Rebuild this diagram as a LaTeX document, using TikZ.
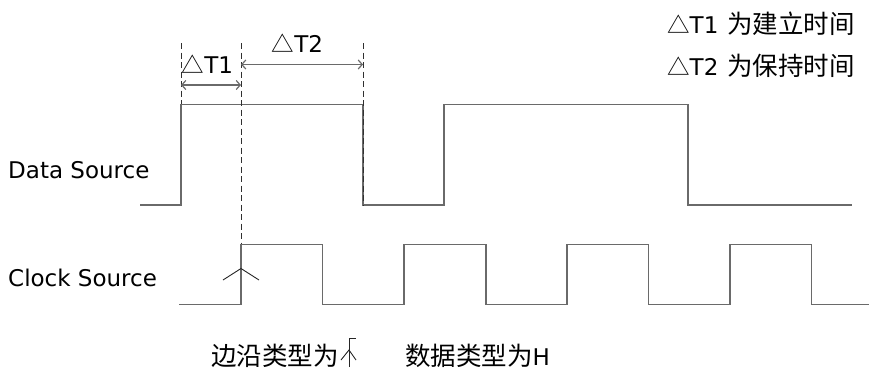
\documentclass[tikz,border=0pt]{standalone}
\usepackage{fontspec}
\setmainfont{DejaVu Sans}
\newfontfamily\cjk{Noto Sans CJK SC}
\usetikzlibrary{arrows.meta}
\definecolor{wavegray}{HTML}{6A6A6A}
\definecolor{dashgray}{HTML}{303030}
\newcommand{\tri}{{\cjk\fontsize{22.5}{27}\selectfont △}}
\newcommand{\cjkbig}{\cjk\fontsize{25.5}{30}\selectfont}
\begin{document}
\begin{tikzpicture}[x=1pt,y=-1pt,
  wave/.style={draw=wavegray,line width=1.4pt,line join=miter},
  guide/.style={draw=dashgray,line width=0.9pt,dash pattern=on 6pt off 3.5pt},
  dim/.style={draw=wavegray,line width=1.2pt,{Straight Barb[length=4pt,width=9pt]}-{Straight Barb[length=4pt,width=9pt]}},
  thin/.style={draw=black!85,line width=0.9pt},
  lbl/.style={inner sep=0pt,font=\fontsize{23}{27}\selectfont},
  cjklbl/.style={inner sep=0pt,font=\fontsize{23}{27}\selectfont}]
\useasboundingbox (0,0) rectangle (871,375);

% waveforms
\draw[wave] (140,205) -- (181,205) -- (181,104.5) -- (363,104.5) -- (363,205)
  -- (444,205) -- (444,104.5) -- (688,104.5) -- (688,205) -- (852,205);
\draw[wave] (179,304.5) -- (241,304.5) -- (241,244.5) -- (322.5,244.5) -- (322.5,304.5)
  -- (404,304.5) -- (404,244.5) -- (486,244.5) -- (486,304.5)
  -- (567,304.5) -- (567,244.5) -- (648.5,244.5) -- (648.5,304.5)
  -- (730,304.5) -- (730,244.5) -- (811.5,244.5) -- (811.5,304.5) -- (869,304.5);

% guide coordinates
\coordinate (g1t) at (181,43);  \coordinate (g1b) at (181,104);
\coordinate (g2t) at (241,43);  \coordinate (g2b) at (241,244);
\coordinate (g3t) at (363,43);  \coordinate (g3b) at (363,205);
\draw[guide] (g1t) -- (g1b);
\draw[guide] (g2t) -- (g2b);
\draw[guide] (g3t) -- (g3b);

% dimension arrows
\coordinate (a1l) at (181,85);   \coordinate (a1r) at (241,85);
\coordinate (a2l) at (241,64.5); \coordinate (a2r) at (363,64.5);
\draw[dim] (a1l) -- (a1r);
\draw[dim] (a2l) -- (a2r);

% rising edge marker on clock
\coordinate (ck) at (241,268.5);
\draw[thin] (223,280) -- (ck) -- (259,280);

% labels
\node[lbl] (t1) at (207.5,64) {\tri T1};
\node[lbl] (t2) at (297.5,43) {\tri T2};
\node[lbl,anchor=west] (n1) at (667,24) {\tri T1\hspace{9pt}{\cjkbig 为建立时间}};
\node[lbl,anchor=west] (n2) at (667,66) {\tri T2\hspace{9pt}{\cjkbig 为保持时间}};
\node[lbl,anchor=west] (ds) at (8,170) {Data Source};
\node[lbl,anchor=west] (cs) at (8,278) {Clock Source};
\node[cjklbl,anchor=west] (edge) at (211,356) {\cjkbig 边沿类型为};
\node[cjklbl,anchor=west] (dtype) at (405,356) {{\cjkbig 数据类型为}H};

% edge symbol after text
\draw[thin] (349,367) -- (349,338) -- (356,338);
\draw[thin] (341,360) -- (349,350) -- (356,360);
\end{tikzpicture}
\end{document}
